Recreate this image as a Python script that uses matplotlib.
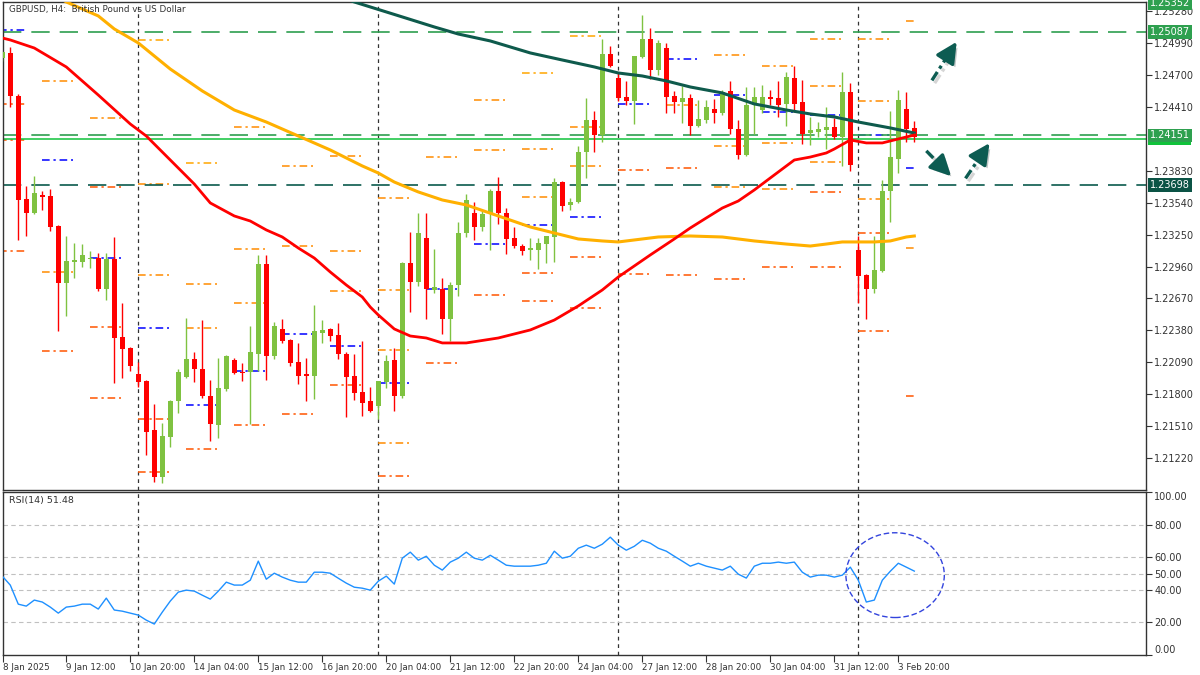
import numpy as np
import matplotlib.pyplot as plt
import matplotlib.patheffects as pe
from matplotlib.patches import Ellipse, Rectangle
from matplotlib.transforms import blended_transform_factory

# ---- GBPUSD H4 candles (bar index 0..114) ----
opens = [1.2485, 1.2490, 1.2451, 1.2357, 1.2345, 1.2361, 1.2360, 1.2333, 1.2281, 1.2300,
         1.2300, 1.2303, 1.2304, 1.2276, 1.2303, 1.2232, 1.2222, 1.2198, 1.2192, 1.2148,
         1.2105, 1.2141, 1.2174, 1.2196, 1.2212, 1.2203, 1.2178, 1.2152, 1.2185, 1.2211,
         1.2200, 1.2200, 1.2217, 1.2298, 1.2215, 1.2239, 1.2229, 1.2209, 1.2198, 1.2197,
         1.2236, 1.2239, 1.2234, 1.2217, 1.2197, 1.2182, 1.2174, 1.2169, 1.2191, 1.2211,
         1.2178, 1.2299, 1.2282, 1.2322, 1.2275, 1.2276, 1.2248, 1.2279, 1.2326, 1.2345,
         1.2332, 1.2344, 1.2365, 1.2345, 1.2322, 1.2315, 1.2311, 1.2311, 1.2316, 1.2323,
         1.2373, 1.2352, 1.2355, 1.2400, 1.2429, 1.2415, 1.2489, 1.2467, 1.2450, 1.2446,
         1.2486, 1.2503, 1.2474, 1.2494, 1.2451, 1.2445, 1.2449, 1.2424, 1.2429, 1.2439,
         1.2435, 1.2455, 1.2421, 1.2397, 1.2443, 1.2438, 1.2450, 1.2449, 1.2444, 1.2467,
         1.2445, 1.2417, 1.2418, 1.2420, 1.2423, 1.2414, 1.2454, 1.2311, 1.2288, 1.2276,
         1.2292, 1.2365, 1.2394, 1.2439, 1.2422]
highs = [1.2492, 1.2495, 1.2453, 1.2369, 1.2378, 1.2365, 1.2366, 1.2334, 1.2324, 1.2317,
         1.2316, 1.2310, 1.2308, 1.2308, 1.2323, 1.2263, 1.2223, 1.2209, 1.2193, 1.2171,
         1.2154, 1.2175, 1.2203, 1.2249, 1.2218, 1.2247, 1.2193, 1.2213, 1.2216, 1.2213,
         1.2208, 1.2242, 1.2306, 1.2306, 1.2246, 1.2248, 1.2230, 1.2227, 1.2213, 1.2261,
         1.2247, 1.2240, 1.2245, 1.2218, 1.2217, 1.2228, 1.2187, 1.2192, 1.2216, 1.2222,
         1.2300, 1.2327, 1.2345, 1.2345, 1.2312, 1.2286, 1.2282, 1.2336, 1.2362, 1.2355,
         1.2346, 1.2366, 1.2377, 1.2349, 1.2332, 1.2316, 1.2322, 1.2322, 1.2324, 1.2376,
         1.2374, 1.2358, 1.2405, 1.2449, 1.2437, 1.2503, 1.2496, 1.2472, 1.2464, 1.2487,
         1.2524, 1.2513, 1.2502, 1.2499, 1.2455, 1.2460, 1.2453, 1.2447, 1.2447, 1.2448,
         1.2456, 1.2464, 1.2429, 1.2459, 1.2459, 1.2461, 1.2456, 1.2464, 1.2473, 1.2478,
         1.2465, 1.2432, 1.2427, 1.2441, 1.2431, 1.2473, 1.2463, 1.2324, 1.2289, 1.2324,
         1.2375, 1.2437, 1.2456, 1.2454, 1.2428]
lows = [1.2483, 1.2441, 1.2320, 1.2324, 1.2344, 1.2347, 1.2328, 1.2237, 1.2251, 1.2286,
        1.2296, 1.2295, 1.2274, 1.2266, 1.2190, 1.2195, 1.2201, 1.2187, 1.2125, 1.2100,
        1.2099, 1.2132, 1.2163, 1.2195, 1.2191, 1.2177, 1.2138, 1.2140, 1.2183, 1.2198,
        1.2192, 1.2153, 1.2201, 1.2193, 1.2212, 1.2227, 1.2206, 1.2189, 1.2174, 1.2176,
        1.2227, 1.2228, 1.2212, 1.2159, 1.2175, 1.2160, 1.2164, 1.2158, 1.2186, 1.2165,
        1.2177, 1.2255, 1.2278, 1.2248, 1.2272, 1.2235, 1.2228, 1.2269, 1.2323, 1.2320,
        1.2328, 1.2311, 1.2335, 1.2307, 1.2313, 1.2306, 1.2302, 1.2294, 1.2299, 1.2300,
        1.2346, 1.2347, 1.2354, 1.2376, 1.2400, 1.2409, 1.2477, 1.2446, 1.2443, 1.2425,
        1.2485, 1.2466, 1.2470, 1.2435, 1.2435, 1.2426, 1.2415, 1.2423, 1.2426, 1.2426,
        1.2434, 1.2416, 1.2394, 1.2396, 1.2416, 1.2435, 1.2443, 1.2432, 1.2424, 1.2436,
        1.2407, 1.2406, 1.2414, 1.2403, 1.2412, 1.2387, 1.2383, 1.2263, 1.2248, 1.2272,
        1.2291, 1.2336, 1.2381, 1.2409, 1.2409]
closes = [1.2491, 1.2451, 1.2356, 1.2345, 1.2363, 1.2359, 1.2332, 1.2281, 1.2301, 1.2302,
          1.2306, 1.2304, 1.2276, 1.2303, 1.2231, 1.2221, 1.2206, 1.2191, 1.2146, 1.2105,
          1.2142, 1.2174, 1.2200, 1.2212, 1.2203, 1.2178, 1.2153, 1.2186, 1.2215, 1.2199,
          1.2199, 1.2218, 1.2298, 1.2215, 1.2242, 1.2228, 1.2208, 1.2197, 1.2197, 1.2237,
          1.2238, 1.2233, 1.2217, 1.2196, 1.2181, 1.2172, 1.2165, 1.2192, 1.2210, 1.2178,
          1.2299, 1.2282, 1.2326, 1.2276, 1.2277, 1.2248, 1.2279, 1.2326, 1.2356, 1.2332,
          1.2344, 1.2365, 1.2345, 1.2321, 1.2315, 1.2310, 1.2313, 1.2317, 1.2324, 1.2373,
          1.2351, 1.2355, 1.2400, 1.2429, 1.2415, 1.2489, 1.2478, 1.2449, 1.2446, 1.2487,
          1.2503, 1.2474, 1.2499, 1.2450, 1.2445, 1.2449, 1.2424, 1.2430, 1.2441, 1.2435,
          1.2454, 1.2421, 1.2397, 1.2443, 1.2450, 1.2450, 1.2448, 1.2443, 1.2468, 1.2444,
          1.2416, 1.2420, 1.2421, 1.2423, 1.2414, 1.2454, 1.2388, 1.2287, 1.2276, 1.2293,
          1.2365, 1.2395, 1.2447, 1.2421, 1.2414]

rsi = [48.4, 42.9, 31.2, 30.0, 33.7, 32.5, 29.4, 25.7, 29.4, 30.0,
       31.2, 31.2, 28.2, 34.9, 27.6, 26.9, 25.7, 24.5, 21.4, 19.0,
       26.3, 33.1, 38.6, 39.8, 39.2, 36.7, 34.3, 39.2, 44.7, 42.9,
       42.9, 45.9, 57.6, 46.5, 50.2, 47.8, 45.9, 44.7, 44.7, 50.8,
       50.8, 50.2, 47.1, 44.1, 41.6, 41.0, 39.8, 45.3, 48.4, 43.5,
       59.4, 63.1, 58.2, 60.6, 55.1, 52.1, 57.0, 59.4, 63.1, 59.4,
       58.2, 61.2, 58.2, 55.1, 54.5, 54.5, 54.5, 55.1, 56.3, 63.7,
       59.4, 60.6, 65.5, 67.4, 65.5, 68.0, 72.3, 67.4, 64.3, 66.7,
       70.4, 68.6, 65.5, 63.7, 60.6, 57.6, 54.5, 56.3, 54.5, 53.3,
       52.1, 54.5, 49.6, 47.2, 54.5, 56.3, 56.3, 57.0, 56.3, 57.0,
       50.8, 47.8, 49.0, 49.0, 47.8, 49.0, 53.9, 45.9, 32.5, 33.7,
       45.9, 51.4, 56.3, 53.9, 51.48]

# moving averages (bar index, value)
ma_fast_idx = [0, 1, 4, 8, 12, 16, 18, 21, 24, 26, 29, 31, 33, 35, 37, 39, 41, 43, 45, 46,
               47, 49, 51, 53, 55, 58, 62, 66, 69, 72, 75, 77, 79, 81, 84, 86, 88, 90, 92, 94,
               96, 99, 101, 103, 104, 106, 108, 110, 112, 114]
ma_fast_val = [1.25035, 1.25017, 1.24944, 1.24772, 1.24517, 1.24254, 1.24145, 1.23927, 1.23709, 1.23537,
               1.23419, 1.23373, 1.23292, 1.23228, 1.23128, 1.23037, 1.22910, 1.22792, 1.22683, 1.22592,
               1.22520, 1.22393, 1.22329, 1.22311, 1.22266, 1.22266, 1.22311, 1.22384, 1.22474, 1.22602,
               1.22747, 1.22865, 1.22965, 1.23065, 1.23210, 1.23310, 1.23401, 1.23491, 1.23555, 1.23655,
               1.23764, 1.23927, 1.23954, 1.23991, 1.24027, 1.24109, 1.24082, 1.24082, 1.24118, 1.24154]
ma_mid_idx = [7, 8, 12, 14, 17, 21, 25, 29, 33, 37, 41, 45, 47, 49, 52, 55, 58, 62, 66, 69,
              72, 75, 77, 79, 82, 86, 90, 94, 98, 101, 103, 105, 109, 111, 113, 114]
ma_mid_val = [1.25407, 1.25362, 1.25235, 1.25117, 1.24990, 1.24753, 1.24554, 1.24381, 1.24272, 1.24145,
              1.24018, 1.23873, 1.23809, 1.23727, 1.23637, 1.23564, 1.23519, 1.23419, 1.23319, 1.23264,
              1.23210, 1.23192, 1.23183, 1.23201, 1.23228, 1.23237, 1.23228, 1.23192, 1.23164, 1.23146,
              1.23164, 1.23183, 1.23183, 1.23192, 1.23228, 1.23237]
ma_slow_idx = [42, 44, 50, 54, 57, 61, 66, 70, 74, 77, 80, 83, 86, 90, 94, 98, 101, 104, 107, 111, 114]
ma_slow_val = [1.25416, 1.25362, 1.25226, 1.25135, 1.25071, 1.25008, 1.24899, 1.24835, 1.24772, 1.24717,
               1.24690, 1.24645, 1.24590, 1.24536, 1.24436, 1.24381, 1.24345, 1.24318, 1.24272, 1.24218,
               1.24172]

# daily pivot levels: start bar of the day, price, kind
lvl_day = [-1, -1, -1, -1, 5, 5, 5, 5, 11, 11, 11, 11, 11,
           17, 17, 17, 17, 17, 17, 23, 23, 23, 23, 23, 29, 29, 29, 29, 29,
           35, 35, 35, 35, 41, 41, 41, 41, 41, 47, 47, 47, 47, 47, 47,
           53, 53, 53, 59, 59, 59, 59, 65, 65, 65, 65, 65, 65,
           71, 71, 71, 71, 71, 71, 77, 77, 77, 83, 83, 83, 83,
           89, 89, 89, 89, 89, 95, 95, 95, 95, 95,
           101, 101, 101, 101, 101, 101, 107, 107, 107, 107, 107, 107,
           113, 113, 113, 113]
lvl_price = [1.2511, 1.2444, 1.2411, 1.2310, 1.2464, 1.2393, 1.2291, 1.2219,
             1.2431, 1.2368, 1.2304, 1.2241, 1.2177,
             1.2502, 1.2371, 1.2288, 1.2240, 1.2158, 1.2109,
             1.2390, 1.2280, 1.2240, 1.2170, 1.2130,
             1.2423, 1.2312, 1.2263, 1.2201, 1.2152,
             1.2387, 1.2315, 1.2235, 1.2162,
             1.2396, 1.2310, 1.2274, 1.2224, 1.2188,
             1.2358, 1.2275, 1.2220, 1.2190, 1.2136, 1.2106,
             1.2395, 1.2276, 1.2208,
             1.2447, 1.2402, 1.2316, 1.2270,
             1.2472, 1.2403, 1.2359, 1.2334, 1.2290, 1.2265,
             1.2505, 1.2423, 1.2387, 1.2341, 1.2305, 1.2258,
             1.2444, 1.2384, 1.2289,
             1.2484, 1.2443, 1.2385, 1.2288,
             1.2488, 1.2452, 1.2405, 1.2368, 1.2285,
             1.2478, 1.2436, 1.2408, 1.2366, 1.2296,
             1.2503, 1.2460, 1.2434, 1.2391, 1.2364, 1.2296,
             1.2503, 1.2446, 1.2415, 1.2357, 1.2326, 1.2237,
             1.2519, 1.2385, 1.2313, 1.2178]
lvl_kind = ['p', 'lo', 'lo', 'lo', 'hi', 'p', 'hi', 'lo',
            'hi', 'lo', 'p', 'lo', 'lo',
            'gold', 'hi', 'hi', 'p', 'lo', 'lo',
            'gold', 'hi', 'hi', 'p', 'lo',
            'hi', 'hi', 'hi', 'p', 'lo',
            'hi', 'hi', 'p', 'lo',
            'hi', 'hi', 'hi', 'p', 'lo',
            'hi', 'hi', 'hi', 'p', 'hi', 'lo',
            'hi', 'p', 'lo',
            'hi', 'hi', 'p', 'lo',
            'gold', 'hi', 'hi', 'p', 'lo', 'lo',
            'gold', 'hi', 'hi', 'p', 'lo', 'lo',
            'p', 'lo', 'lo',
            'p', 'hi', 'lo', 'lo',
            'hi', 'p', 'hi', 'hi', 'lo',
            'hi', 'p', 'hi', 'hi', 'lo',
            'hi', 'hi', 'p', 'hi', 'lo', 'lo',
            'hi', 'hi', 'p', 'hi', 'lo', 'lo',
            'hi', 'p', 'hi', 'lo']

res_top = 1.25087
res_mid = 1.24151
sup_low = 1.23698
bid = 1.2412
high_tag = 1.25352

price_ticks = [1.21220, 1.21510, 1.21800, 1.22090, 1.22380, 1.22670, 1.22960, 1.23250,
               1.23540, 1.23830, 1.24410, 1.24700, 1.24990, 1.25280]
rsi_ticks = [0, 20, 40, 50, 60, 80, 100]
time_idx = [8, 16, 24, 32, 40, 48, 56, 64, 72, 80, 88, 96, 104, 112]
time_labels = ['9 Jan 12:00', '10 Jan 20:00', '14 Jan 04:00', '15 Jan 12:00', '16 Jan 20:00',
               '20 Jan 04:00', '21 Jan 12:00', '22 Jan 20:00', '24 Jan 04:00', '27 Jan 12:00',
               '28 Jan 20:00', '30 Jan 04:00', '31 Jan 12:00', '3 Feb 20:00']
week_sep = [17, 47, 77, 107]

BULL, BEAR = '#7fc241', '#ff0000'
LVL_COL = {'gold': '#ffa500', 'hi': '#ff8c00', 'lo': '#ff5500', 'p': '#0000ff'}
AXC = '#333333'
plt.rcParams['font.family'] = 'DejaVu Sans'

fig = plt.figure(figsize=(12, 6.75), dpi=100)
ax = fig.add_axes([0.0025, 0.2741, 0.9525, 0.7230])
axr = fig.add_axes([0.0025, 0.0296, 0.9525, 0.2415])
xlim = (0.09, 142.96)

# candles
o, h, l, c = map(np.array, (opens, highs, lows, closes))
x = np.arange(len(o))
col = np.where(c >= o, BULL, BEAR)
ax.vlines(x, l, h, colors=col, lw=1.0, zorder=3)
ax.bar(x, np.maximum(np.abs(c - o), 0.00008), bottom=np.minimum(o, c), width=0.62,
       color=col, linewidth=0, zorder=4)

# moving averages
ax.plot(ma_mid_idx, ma_mid_val, color='#ffb000', lw=2.2, zorder=5)
ax.plot(ma_slow_idx, ma_slow_val, color='#0e5a4c', lw=2.2, zorder=5)
ax.plot(ma_fast_idx, ma_fast_val, color='#ff0000', lw=2.0, zorder=6)

# pivot segments
last = len(o) - 1
for d, p, k in zip(lvl_day, lvl_price, lvl_kind):
    ax.plot([d, min(d + 3.85, last + 0.3)], [p, p], color=LVL_COL[k], lw=1.1,
            ls=(0, (5, 2.5, 1.5, 2.5)), zorder=2)

# horizontal levels
ax.axhline(res_top, color='#2e9e4f', lw=1.2, ls=(0, (11, 6)), zorder=2)
ax.axhline(res_mid, color='#2e9e4f', lw=1.2, ls=(0, (11, 6)), zorder=2)
ax.axhline(sup_low, color='#0b5a4d', lw=1.2, ls=(0, (11, 6)), zorder=2)
ax.axhline(bid, color='#10c23a', lw=1.1, zorder=2)

# weekly separators
for a in (ax, axr):
    for s in week_sep:
        a.axvline(s - 0.06, color='#333333', lw=0.9, ls=(0, (3, 3)), zorder=1)

# arrows
ARC = '#0d5c52'
def arrow(a, x0, y0, x1, y1):
    xm, ym = x0 + 0.62 * (x1 - x0), y0 + 0.62 * (y1 - y0)
    a.plot([x0, xm], [y0, ym], color=ARC, lw=2.4, ls=(0, (3, 1.2, 1, 1.2)),
           solid_capstyle='butt', zorder=7, clip_on=False,
           path_effects=[pe.SimpleLineShadow(offset=(2, -2), shadow_color='#777777', alpha=0.3),
                         pe.Normal()])
    a.annotate('', xy=(x1, y1), xytext=(xm, ym),
               arrowprops=dict(arrowstyle='-|>,head_length=0.9,head_width=0.45', color=ARC,
                               lw=2.4, mutation_scale=14, shrinkA=0, shrinkB=0,
                               path_effects=[pe.SimplePatchShadow(offset=(2, -2), alpha=0.25),
                                             pe.Normal()]),
               zorder=7, annotation_clip=False)

arrow(ax, 116.2, 1.2465, 119.3, 1.2500)
arrow(ax, 115.5, 1.2401, 118.6, 1.2378)
arrow(ax, 120.4, 1.2376, 123.4, 1.2408)

ax.set_xlim(*xlim)
ax.set_ylim(1.20931, 1.25362)
ax.yaxis.tick_right()
ax.set_yticks(price_ticks)
ax.set_yticklabels([f'{v:.5f}' for v in price_ticks])
ax.tick_params(axis='y', length=4, width=0.8, labelsize=7, pad=2, colors=AXC)
ax.tick_params(axis='x', bottom=False, labelbottom=False)
for s in ax.spines.values():
    s.set_color(AXC)
    s.set_linewidth(1.0)

# right-side price tags
tr = blended_transform_factory(ax.transAxes, ax.transData)
def tag(p, txt, fc):
    ax.text(1.0035, p, txt, transform=tr, fontsize=7, color='white', va='center', ha='left',
            zorder=10, clip_on=False,
            bbox=dict(boxstyle='square,pad=0.18', fc=fc, ec='none'))

tag(high_tag, f'{high_tag:.5f}', '#2ea04f')
tag(res_top, f'{res_top:.5f}', '#2ea04f')
# bid tag sits mostly hidden behind the 1.24151 tag
ax.add_patch(Rectangle((1.0015, bid - 0.00055), 0.038, 0.0011, transform=tr,
                       fc='#10c23a', ec='none', zorder=9, clip_on=False))
tag(res_mid, f'{res_mid:.5f}', '#2ea04f')
tag(sup_low, f'{sup_low:.5f}', '#0b5345')

ax.annotate('GBPUSD, H4:  British Pound vs US Dollar', xy=(0, 1), xycoords='axes fraction',
            xytext=(4, -2), textcoords='offset points', va='top', ha='left',
            fontsize=6.3, color=AXC, zorder=12)

# RSI panel
for v in (20, 40, 50, 60, 80):
    axr.axhline(v, color='#c0c0c0', lw=0.8, ls=(0, (4, 3)), zorder=1)
axr.plot(x, rsi, color='#1e90ff', lw=1.0, zorder=3)
axr.add_patch(Ellipse((111.6, 49), width=12.3, height=52, fill=False, ec='#3344dd',
                      lw=1.0, ls=(0, (4, 2)), zorder=4))
axr.set_xlim(*xlim)
axr.set_ylim(0, 100)
axr.yaxis.tick_right()
axr.set_yticks(rsi_ticks)
axr.set_yticklabels([f'{v:.2f}' for v in rsi_ticks])
axr.tick_params(axis='y', length=4, width=0.8, labelsize=7, pad=2, colors=AXC)
for lab in axr.get_yticklabels():
    if lab.get_text() == '100.00':
        lab.set_va('top')
    elif lab.get_text() == '0.00':
        lab.set_va('bottom')
axr.set_xticks([xlim[0]] + time_idx)
axr.set_xticklabels(['8 Jan 2025'] + time_labels, ha='left')
axr.tick_params(axis='x', length=5, width=0.8, labelsize=6.3, pad=1, colors=AXC)
for s in axr.spines.values():
    s.set_color(AXC)
    s.set_linewidth(1.0)
axr.annotate(f'RSI(14) {rsi[-1]:.2f}', xy=(0, 1), xycoords='axes fraction',
             xytext=(4, -3), textcoords='offset points', va='top', ha='left',
             fontsize=6.8, color=AXC)

fig.savefig('out.png', dpi=100)
